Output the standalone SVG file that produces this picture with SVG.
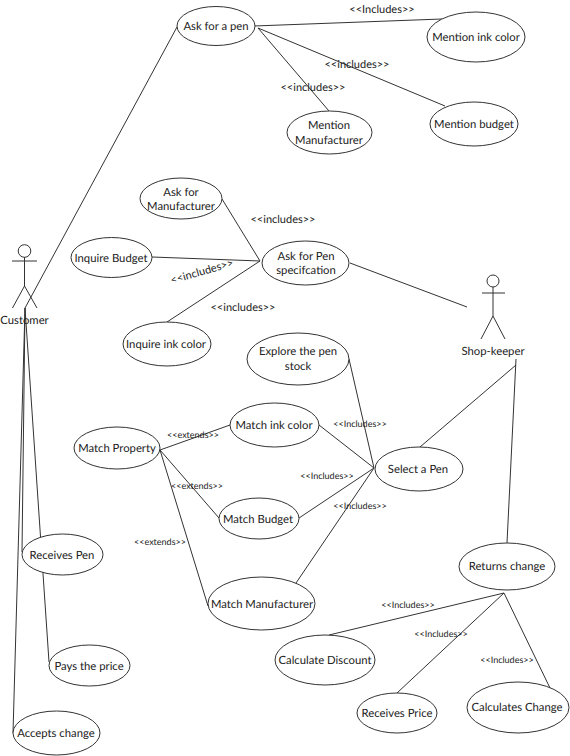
<svg xmlns="http://www.w3.org/2000/svg" width="570" height="756" viewBox="0 0 570 756">
<style>
text{font-family:"Lato","Liberation Sans",sans-serif;fill:#222;text-anchor:middle;text-rendering:geometricPrecision}
.n{font-size:11.3px}
.l{font-size:11px}
.s{font-size:9px}
ellipse{fill:#fff;stroke:#333;stroke-width:1}
line,circle{stroke:#333;stroke-width:1;fill:none}
circle{fill:#fff}
</style>
<rect width="570" height="756" fill="#fff"/>
<g id="connectors">
<line x1="177" y1="27" x2="25" y2="308"/>
<line x1="25" y1="308" x2="13" y2="733"/>
<line x1="25" y1="308" x2="22" y2="552"/>
<line x1="25" y1="308" x2="49" y2="662"/>
<line x1="254" y1="26" x2="442" y2="19"/>
<line x1="258" y1="28" x2="445" y2="106"/>
<line x1="258" y1="28" x2="329" y2="111"/>
<line x1="222" y1="199" x2="260" y2="261"/>
<line x1="152" y1="257" x2="260" y2="261"/>
<line x1="167" y1="322" x2="260" y2="261"/>
<line x1="350" y1="263" x2="467" y2="307"/>
<line x1="516" y1="359" x2="507" y2="543"/>
<line x1="516" y1="365" x2="420" y2="447"/>
<line x1="349" y1="359" x2="374" y2="468"/>
<line x1="319" y1="425" x2="374" y2="468"/>
<line x1="299" y1="518" x2="374" y2="468"/>
<line x1="296" y1="583" x2="374" y2="468"/>
<line x1="160" y1="450" x2="230" y2="425"/>
<line x1="160" y1="450" x2="219" y2="518"/>
<line x1="160" y1="450" x2="208" y2="606"/>
<line x1="504" y1="593" x2="329" y2="635"/>
<line x1="504" y1="593" x2="397" y2="693"/>
<line x1="504" y1="593" x2="550" y2="688"/>
</g>
<g id="actor-customer">
<circle cx="24.5" cy="251" r="6.3"/>
<line x1="24.5" y1="257" x2="24.5" y2="286"/>
<line x1="12" y1="261" x2="37" y2="261"/>
<line x1="24.5" y1="286" x2="12.5" y2="308"/>
<line x1="24.5" y1="286" x2="37" y2="308"/>
<text class="n" x="24.5" y="323.5">Customer</text>
</g>
<g id="actor-shopkeeper">
<circle cx="493" cy="281" r="6"/>
<line x1="493" y1="287" x2="493" y2="316"/>
<line x1="482" y1="293" x2="505" y2="293"/>
<line x1="493" y1="316" x2="481" y2="339"/>
<line x1="493" y1="316" x2="505" y2="339"/>
<text class="n" x="493" y="354.5">Shop-keeper</text>
</g>
<g id="ask-for-a-pen"><ellipse cx="216" cy="26" rx="39" ry="19.5"/><text class="n" x="216" y="30">Ask for a pen</text></g>
<g id="mention-ink-color"><ellipse cx="476" cy="37" rx="49" ry="25"/><text class="n" x="476" y="41">Mention ink color</text></g>
<g id="mention-budget"><ellipse cx="474" cy="124" rx="44" ry="22"/><text class="n" x="474" y="128">Mention budget</text></g>
<g id="mention-manufacturer"><ellipse cx="329.5" cy="132.5" rx="42.5" ry="21.5"/><text class="n" x="329" y="129">Mention</text><text class="n" x="329" y="144">Manufacturer</text></g>
<g id="ask-for-manufacturer"><ellipse cx="181" cy="198.5" rx="41" ry="20.5"/><text class="n" x="181" y="196">Ask for</text><text class="n" x="181" y="210">Manufacturer</text></g>
<g id="inquire-budget"><ellipse cx="111.5" cy="257.5" rx="40.5" ry="20"/><text class="n" x="111" y="262">Inquire Budget</text></g>
<g id="ask-for-pen-spec"><ellipse cx="305.5" cy="263" rx="43.5" ry="22"/><text class="n" x="306" y="260">Ask for Pen</text><text class="n" x="306" y="274">specifcation</text></g>
<g id="inquire-ink-color"><ellipse cx="167" cy="344" rx="44" ry="22"/><text class="n" x="166" y="348">Inquire ink color</text></g>
<g id="explore-the-pen-stock"><ellipse cx="298" cy="359" rx="51" ry="26"/><text class="n" x="298" y="355">Explore the pen</text><text class="n" x="298" y="370">stock</text></g>
<g id="match-property"><ellipse cx="117" cy="448" rx="43" ry="21"/><text class="n" x="117" y="451.5">Match Property</text></g>
<g id="match-ink-color"><ellipse cx="274.5" cy="425" rx="44.5" ry="22"/><text class="n" x="274" y="428.5">Match ink color</text></g>
<g id="match-budget"><ellipse cx="259" cy="518.5" rx="40" ry="20.5"/><text class="n" x="258" y="522.5">Match Budget</text></g>
<g id="match-manufacturer"><ellipse cx="261.5" cy="603.5" rx="53.5" ry="26.5"/><text class="n" x="262" y="607.5">Match Manufacturer</text></g>
<g id="select-a-pen"><ellipse cx="419" cy="469" rx="44" ry="22"/><text class="n" x="418" y="472.5">Select a Pen</text></g>
<g id="returns-change"><ellipse cx="507" cy="566.5" rx="48" ry="23.5"/><text class="n" x="507" y="570">Returns change</text></g>
<g id="calculate-discount"><ellipse cx="325" cy="660" rx="50" ry="25"/><text class="n" x="325" y="664">Calculate Discount</text></g>
<g id="receives-price"><ellipse cx="397" cy="713" rx="40" ry="20"/><text class="n" x="397" y="717">Receives Price</text></g>
<g id="calculates-change"><ellipse cx="518" cy="707.5" rx="51" ry="25.5"/><text class="n" x="517" y="711">Calculates Change</text></g>
<g id="receives-pen"><ellipse cx="62.5" cy="554.5" rx="40.5" ry="20.5"/><text class="n" x="62" y="558.5">Receives Pen</text></g>
<g id="pays-the-price"><ellipse cx="89.5" cy="665.5" rx="40.5" ry="20.5"/><text class="n" x="89" y="669.5">Pays the price</text></g>
<g id="accepts-change"><ellipse cx="56.5" cy="733" rx="43.5" ry="22"/><text class="n" x="56" y="737">Accepts change</text></g>
<g id="labels">
<text class="l" x="382" y="13">&lt;&lt;Includes&gt;&gt;</text>
<text class="l" x="357" y="68">&lt;&lt;includes&gt;&gt;</text>
<text class="l" x="313" y="91">&lt;&lt;includes&gt;&gt;</text>
<text class="l" x="283" y="223">&lt;&lt;includes&gt;&gt;</text>
<text class="l" transform="translate(203 275) rotate(-16)">&lt;&lt;includes&gt;&gt;</text>
<text class="l" x="243" y="311">&lt;&lt;includes&gt;&gt;</text>
<text class="s" x="193" y="438">&lt;&lt;extends&gt;&gt;</text>
<text class="s" x="197" y="489">&lt;&lt;extends&gt;&gt;</text>
<text class="s" x="160" y="545">&lt;&lt;extends&gt;&gt;</text>
<text class="s" x="360" y="427">&lt;&lt;Includes&gt;&gt;</text>
<text class="s" x="327" y="479">&lt;&lt;Includes&gt;&gt;</text>
<text class="s" x="360" y="509">&lt;&lt;Includes&gt;&gt;</text>
<text class="s" x="408" y="608">&lt;&lt;Includes&gt;&gt;</text>
<text class="s" x="441" y="637">&lt;&lt;Includes&gt;&gt;</text>
<text class="s" x="507" y="663">&lt;&lt;Includes&gt;&gt;</text>
</g>
</svg>
